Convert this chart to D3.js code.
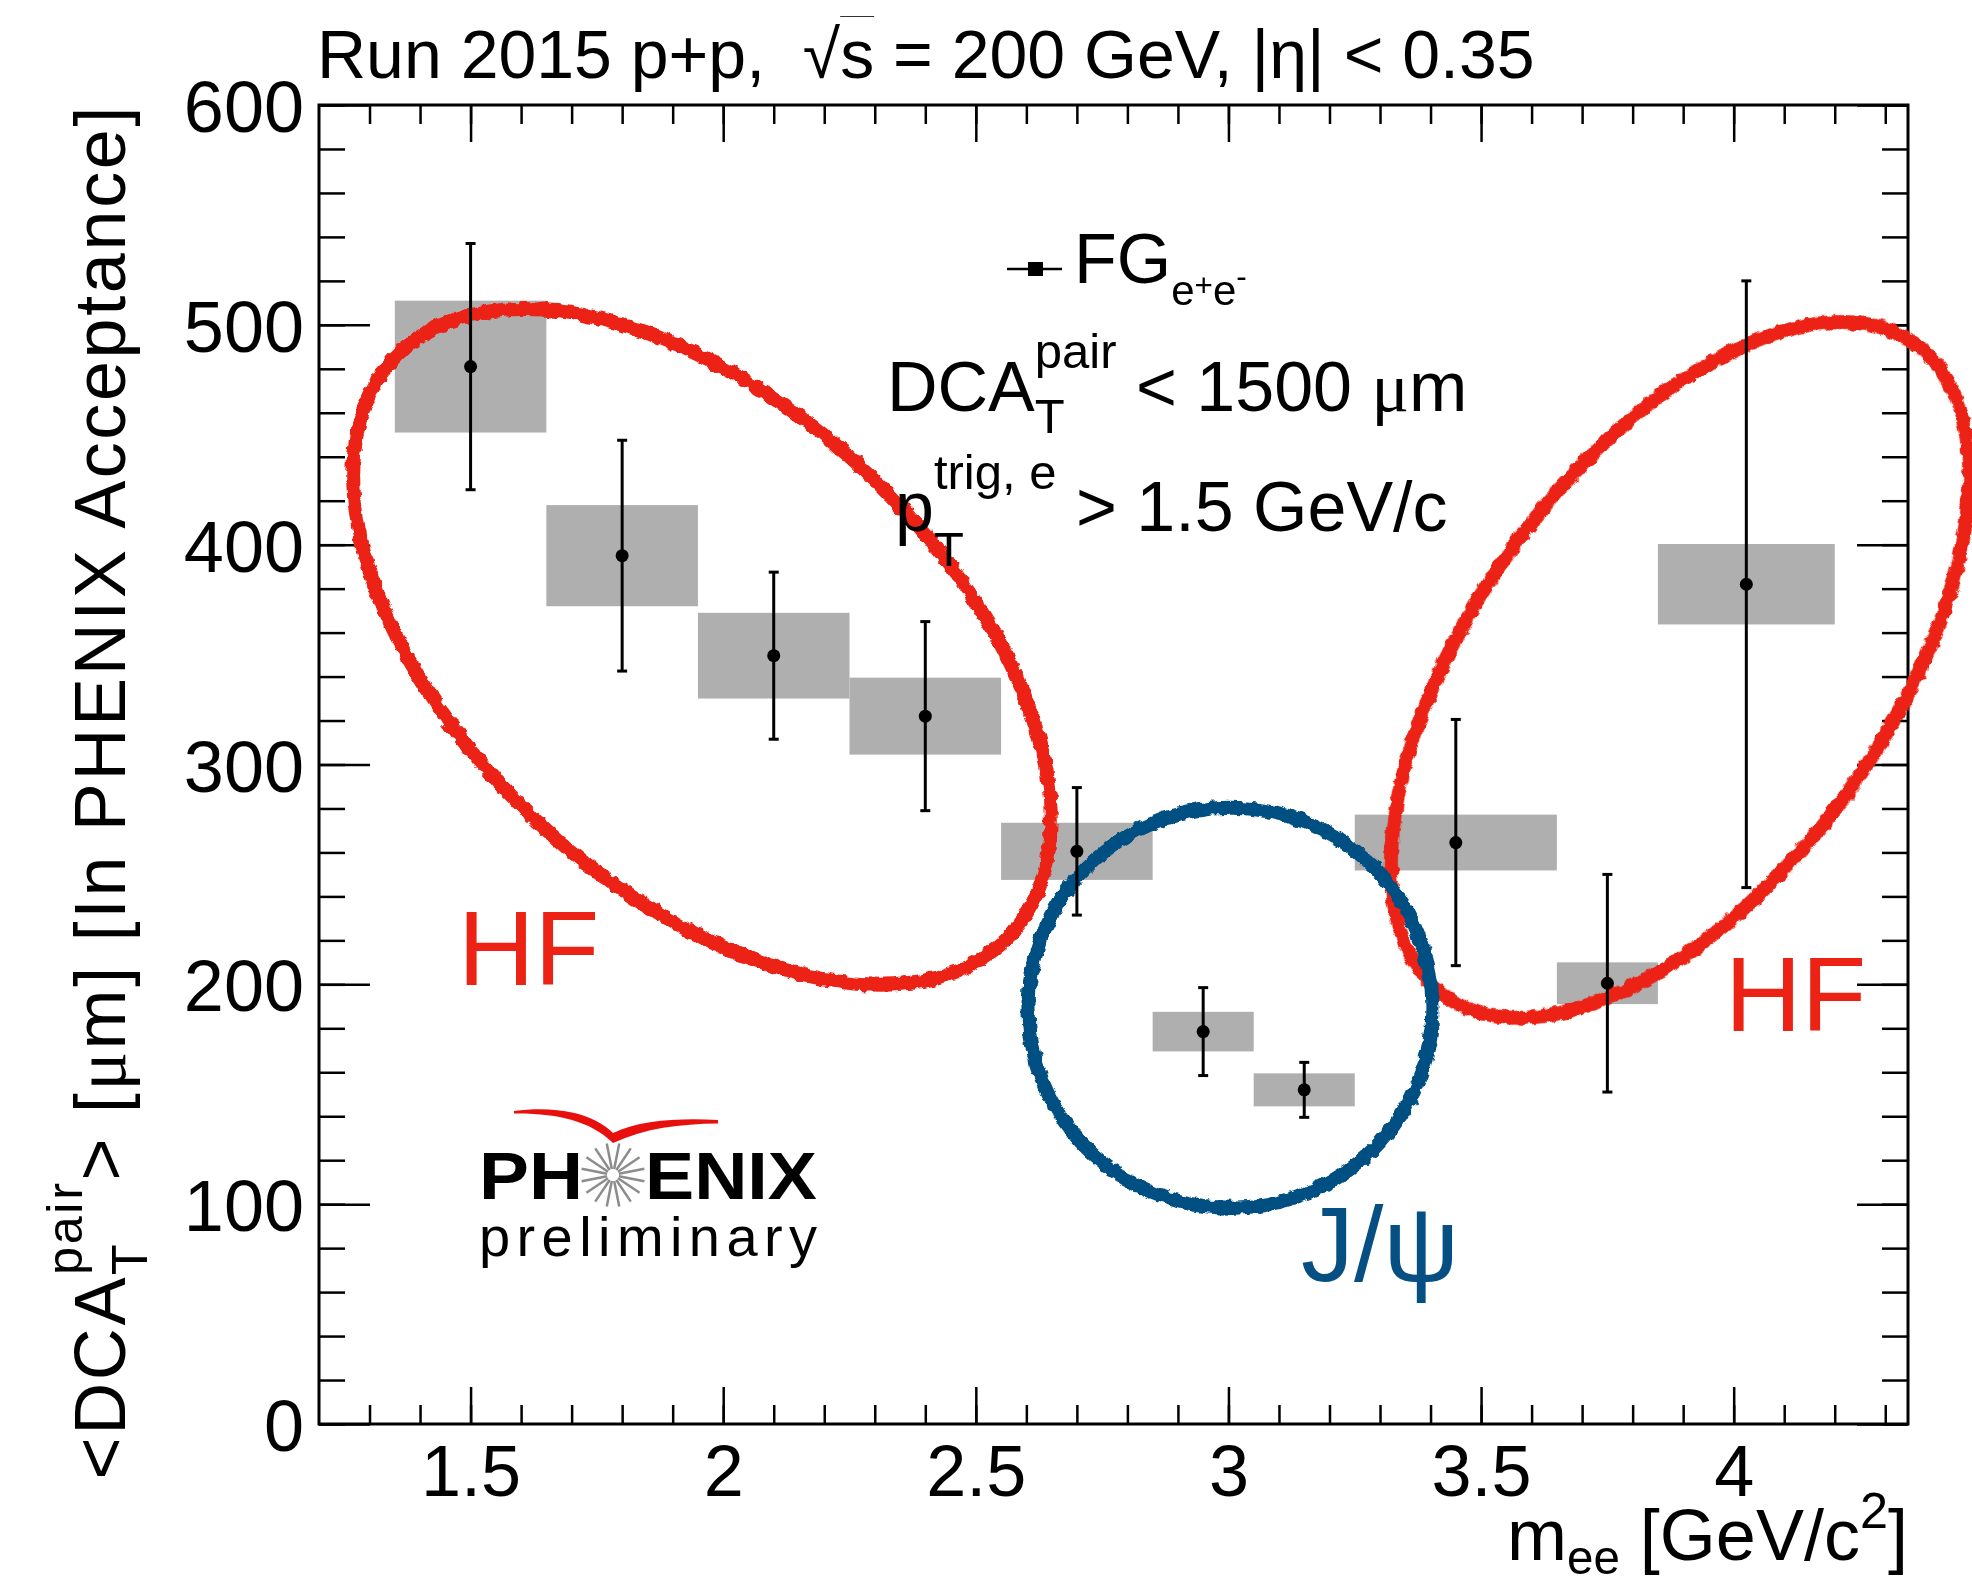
<!DOCTYPE html>
<html>
<head>
<meta charset="utf-8">
<script src="https://cdn.jsdelivr.net/npm/d3@7"></script>
<style>
  body { margin: 0; background: #fff; }
  svg { display: block; }
  text { font-family: "Liberation Sans", Arial, Helvetica, sans-serif; white-space: pre; }
</style>
</head>
<body>
<script>
// pair mass bins [GeV/c^2] and <DCA_T^pair> [um]
var mass    = [1.5, 1.8, 2.1, 2.4, 2.7, 2.95, 3.15, 3.45, 3.75, 4.025];
var binLo   = [1.35, 1.65, 1.95, 2.25, 2.55, 2.85, 3.05, 3.25, 3.65, 3.85];
var binHi   = [1.65, 1.95, 2.25, 2.55, 2.85, 3.05, 3.25, 3.65, 3.85, 4.2];
var dca     = [481, 395, 349.5, 322, 260.5, 178.5, 152, 264.5, 200.5, 382];
var statErr = [56, 52.5, 38, 43, 29, 20, 12.5, 56, 49.5, 138];
var sysErr  = [30, 23, 19.5, 17.5, 13, 9, 7.5, 12.7, 9.5, 18.3];

var xTicks = [1.5, 2, 2.5, 3, 3.5, 4];
var yTicks = [0, 100, 200, 300, 400, 500, 600];

var W = 1972, H = 1584;
var red = "#ec2314", blue = "#064f82";

var x = d3.scaleLinear().domain([1.2, 4.345]).range([319, 1908]);
var y = d3.scaleLinear().domain([0, 600]).range([1424, 105]);

var xMinor = d3.range(13, 44).map(d => d / 10);
var yMinor = d3.range(0, 601, 20);

var svg = d3.select("body").append("svg")
    .attr("width", W)
    .attr("height", H);

var defs = svg.append("defs");
var flt = defs.append("filter").attr("id", "rough")
    .attr("x", "-10%").attr("y", "-10%").attr("width", "120%").attr("height", "120%");
flt.append("feTurbulence").attr("type", "fractalNoise").attr("baseFrequency", 0.12)
    .attr("numOctaves", 2).attr("seed", 4).attr("result", "n");
flt.append("feDisplacementMap").attr("in", "SourceGraphic").attr("in2", "n")
    .attr("scale", 7).attr("xChannelSelector", "R").attr("yChannelSelector", "G");

// text with sub/superscripts; sh = baseline shift in em of base size, stack = same x as previous
const rich = (sel, segs, size) => {
    var shift = 0, pend = 0, lastLen = 0;
    segs.forEach(s => {
        var sh = (s.sh || 0) * size;
        var t = sel.append("tspan")
            .attr("font-size", size * (s.k || 1))
            .attr("dy", sh - shift)
            .text(s.t);
        if (s.ff) t.attr("font-family", s.ff);
        shift = sh;
        var dx = s.stack ? -lastLen : pend;
        if (dx) t.attr("dx", dx);
        var len = t.node().getComputedTextLength();
        pend = s.stack ? Math.max(0, lastLen - len) : 0;
        lastLen = len;
    });
    return sel;
};
var serif = "Liberation Serif, Times New Roman, serif";

// systematic boxes
svg.append("g").selectAll("rect")
    .data(mass)
    .enter().append("rect")
    .attr("x", (d, i) => x(binLo[i]))
    .attr("width", (d, i) => x(binHi[i]) - x(binLo[i]))
    .attr("y", (d, i) => y(dca[i] + sysErr[i]))
    .attr("height", (d, i) => y(dca[i] - sysErr[i]) - y(dca[i] + sysErr[i]))
    .style("fill", "#afafaf");

// axes
function styleAxis(g) {
    g.select(".domain").remove();
    g.selectAll(".tick line").attr("stroke", "#000").attr("stroke-width", 2.5);
    g.selectAll("text").attr("fill", "#000")
        .attr("font-family", "Liberation Sans, Arial, Helvetica, sans-serif");
}

svg.append("g").attr("transform", "translate(0,1424)")
    .call(d3.axisBottom(x).tickValues(xMinor).tickFormat("").tickSize(-19)).call(styleAxis);
svg.append("g").attr("transform", "translate(0,1424)")
    .call(d3.axisBottom(x).tickValues(xTicks).tickFormat(d3.format("")).tickSize(-37).tickPadding(21))
    .call(styleAxis)
    .selectAll("text").attr("font-size", 72).attr("dy", "0.71em");
svg.append("g").attr("transform", "translate(0,105)")
    .call(d3.axisTop(x).tickValues(xMinor).tickFormat("").tickSize(-19)).call(styleAxis);
svg.append("g").attr("transform", "translate(0,105)")
    .call(d3.axisTop(x).tickValues(xTicks).tickFormat("").tickSize(-37)).call(styleAxis);

svg.append("g").attr("transform", "translate(319,0)")
    .call(d3.axisLeft(y).tickValues(yMinor).tickFormat("").tickSize(-26)).call(styleAxis);
svg.append("g").attr("transform", "translate(319,0)")
    .call(d3.axisLeft(y).tickValues(yTicks).tickFormat(d3.format("d")).tickSize(-51).tickPadding(15))
    .call(styleAxis)
    .selectAll("text").attr("font-size", 72).attr("dy", "0.37em");
svg.append("g").attr("transform", "translate(1908,0)")
    .call(d3.axisRight(y).tickValues(yMinor).tickFormat("").tickSize(-26)).call(styleAxis);
svg.append("g").attr("transform", "translate(1908,0)")
    .call(d3.axisRight(y).tickValues(yTicks).tickFormat("").tickSize(-51)).call(styleAxis);

svg.append("rect")
    .attr("x", x(1.2)).attr("y", y(600))
    .attr("width", x(4.345) - x(1.2)).attr("height", y(0) - y(600))
    .style("fill", "none").style("stroke", "#000").style("stroke-width", 3);

// hand-drawn annotation loops (centre in data units, radii in px)
var loops = [
    { cx: 1.958, cy: 353.5, rx: 422, ry: 240, rot: 43.2, c: red },
    { cx: 3.894, cy: 343, rx: 402, ry: 207.5, rot: -54.2, c: red },
    { cx: 3.004, cy: 189.3, rx: 202, ry: 200, rot: 0, c: blue }
];
svg.append("g").attr("filter", "url(#rough)").selectAll("ellipse")
    .data(loops)
    .enter().append("ellipse")
    .attr("cx", d => x(d.cx)).attr("cy", d => y(d.cy))
    .attr("rx", d => d.rx).attr("ry", d => d.ry)
    .attr("transform", d => "rotate(" + d.rot + "," + x(d.cx) + "," + y(d.cy) + ")")
    .style("fill", "none").style("stroke", d => d.c).style("stroke-width", 14);

// stat error bars + markers
var pts = svg.append("g").selectAll("g")
    .data(mass)
    .enter().append("g");
pts.append("line")
    .attr("x1", d => x(d)).attr("x2", d => x(d))
    .attr("y1", (d, i) => y(dca[i] - statErr[i]))
    .attr("y2", (d, i) => y(dca[i] + statErr[i]))
    .style("stroke", "#000").style("stroke-width", 3);
[-1, 1].forEach(s => {
    pts.append("line")
        .attr("x1", d => x(d) - 5).attr("x2", d => x(d) + 5)
        .attr("y1", (d, i) => y(dca[i] + s * statErr[i]))
        .attr("y2", (d, i) => y(dca[i] + s * statErr[i]))
        .style("stroke", "#000").style("stroke-width", 3);
});
pts.append("circle")
    .attr("cx", d => x(d)).attr("cy", (d, i) => y(dca[i]))
    .attr("r", 6.5).style("fill", "#000");

// title
var title = svg.append("text").attr("x", 317).attr("y", 78).attr("font-size", 68);
title.append("tspan").text("Run 2015 p+p,  \u221A");
title.append("tspan").style("text-decoration", "overline").text("s");
title.append("tspan").text(" = 200 GeV, |\u03B7| < 0.35");

// axis titles
rich(svg.append("text").attr("x", 1908).attr("y", 1560).attr("text-anchor", "end"),
    [{ t: "m" }, { t: "ee", k: 0.66, sh: 0.19 }, { t: " [GeV/c" }, { t: "2", k: 0.7, sh: -0.45 }, { t: "]" }], 72);

rich(svg.append("text").attr("transform", "translate(125,104) rotate(-90)")
        .attr("text-anchor", "end").attr("letter-spacing", 2.6),
    [{ t: "<DCA" }, { t: "T", k: 0.7, sh: 0.3 }, { t: "pair", k: 0.7, sh: -0.6, stack: true },
     { t: ">" }, { t: " [" }, { t: "\u03BC", ff: serif }, { t: "m] [In PHENIX Acceptance]" }], 72);

// legend
svg.append("line").attr("x1", 1007).attr("x2", 1062).attr("y1", 269).attr("y2", 269)
    .style("stroke", "#000").style("stroke-width", 2.5);
svg.append("rect").attr("x", 1028).attr("y", 262).attr("width", 15).attr("height", 14)
    .style("fill", "#000");
rich(svg.append("text").attr("x", 1074).attr("y", 283),
    [{ t: "FG" }, { t: "e", k: 0.6, sh: 0.31 }, { t: "+", k: 0.45, sh: 0.19 },
     { t: "e", k: 0.6, sh: 0.31 }, { t: "-", k: 0.45, sh: 0.06 }], 70);

rich(svg.append("text").attr("x", 887).attr("y", 411),
    [{ t: "DCA" }, { t: "T", k: 0.7, sh: 0.31 }, { t: "pair", k: 0.7, sh: -0.61, stack: true },
     { t: " < 1500 " }, { t: "\u03BC", ff: serif }, { t: "m" }], 70);
rich(svg.append("text").attr("x", 895).attr("y", 531),
    [{ t: "p" }, { t: "T", k: 0.7, sh: 0.5 }, { t: "trig, e", k: 0.7, sh: -0.6, stack: true },
     { t: " > 1.5 GeV/c" }], 70);

// loop labels
svg.append("text").attr("x", 458).attr("y", 985).attr("font-size", 106).attr("fill", red).text("HF");
svg.append("text").attr("x", 1725).attr("y", 1031).attr("font-size", 106).attr("fill", red).text("HF");
svg.append("text").attr("x", 1301).attr("y", 1281).attr("font-size", 106).attr("fill", blue).text("J/\u03C8");

// PHENIX preliminary logo
var logo = svg.append("g");
logo.append("path")
    .attr("d", "M514,1111 C560,1105 595,1115 613,1133 C640,1120 680,1118 718,1120 L718,1123.5 C680,1124 645,1128 613,1143 C592,1122 560,1113 514,1113.5 Z")
    .style("fill", "#e8100c");
logo.append("text").attr("x", 479).attr("y", 1199).attr("font-size", 67).attr("font-weight", "bold")
    .attr("font-family", "DejaVu Sans, sans-serif")
    .attr("textLength", 104).attr("lengthAdjust", "spacingAndGlyphs").text("PH");
logo.append("text").attr("x", 645).attr("y", 1199).attr("font-size", 67).attr("font-weight", "bold")
    .attr("font-family", "DejaVu Sans, sans-serif")
    .attr("textLength", 172).attr("lengthAdjust", "spacingAndGlyphs").text("ENIX");
var rays = logo.append("g").attr("transform", "translate(613,1175)");
d3.range(16).forEach(i => {
    var a = i * Math.PI / 8 + Math.PI / 16;
    rays.append("line")
        .attr("x1", 6 * Math.cos(a)).attr("y1", 6 * Math.sin(a))
        .attr("x2", 32 * Math.cos(a)).attr("y2", 32 * Math.sin(a))
        .style("stroke", "#8c8c8c").style("stroke-width", 2.5);
});
logo.append("text").attr("x", 479).attr("y", 1256).attr("font-size", 56)
    .attr("font-family", "DejaVu Sans, sans-serif")
    .attr("textLength", 338).attr("lengthAdjust", "spacing").text("preliminary");
</script>
</body>
</html>
